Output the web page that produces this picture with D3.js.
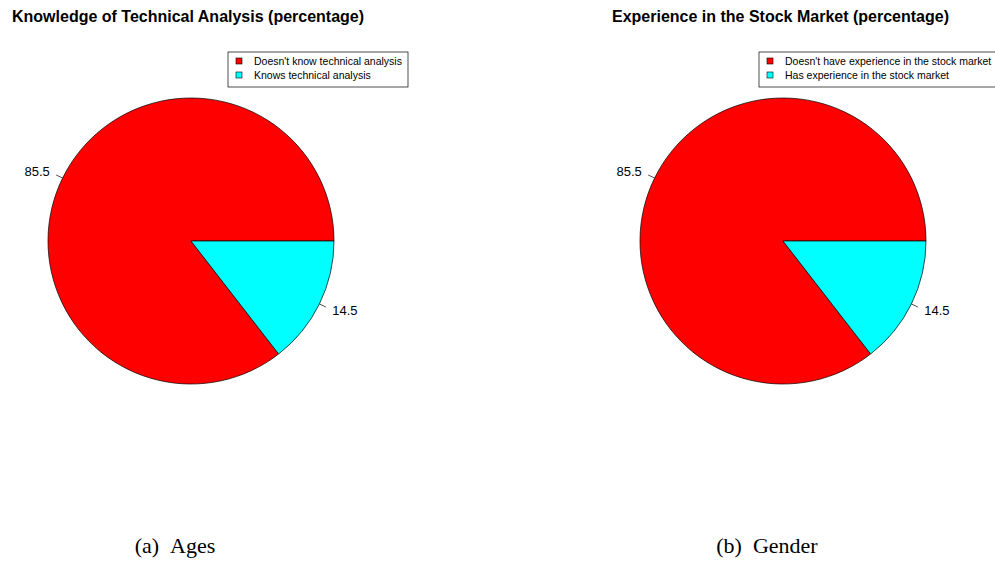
<!DOCTYPE html>
<html>
<head>
<meta charset="utf-8">
<script src="https://cdn.jsdelivr.net/npm/d3@7"></script>
<style>
  body { margin: 0; background: #fff; }
  text { font-family: "Liberation Sans", Arial, sans-serif; }
</style>
</head>
<body>
<script>
var titles = ["Knowledge of Technical Analysis (percentage)", "Experience in the Stock Market (percentage)"];
var captions = ["(a)\u2002Ages", "(b)\u2002Gender"];
var knowledgeLabels = ["Doesn't know technical analysis", "Knows technical analysis"];
var experienceLabels = ["Doesn't have experience in the stock market", "Has experience in the stock market"];
var knowledgeValues = [85.5, 14.5];
var experienceValues = [85.5, 14.5];
var sliceColors = ["#ff0000", "#00ffff"];

var svg = d3.select("body").append("svg")
  .attr("width", 995)
  .attr("height", 561);

var panels = [
  {titleX: 12, cx: 191, title: titles[0], caption: captions[0], labels: knowledgeLabels, values: knowledgeValues, legendX: 228, legendW: 180, captionX: 175},
  {titleX: 612, cx: 783, title: titles[1], caption: captions[1], labels: experienceLabels, values: experienceValues, legendX: 759, legendW: 250, captionX: 767}
];

var radius = 143;
var color = d3.scaleOrdinal().domain([0, 1]).range(sliceColors);

// R draws counter-clockwise from 3 o'clock
var pie = d3.pie().sort(null).startAngle(Math.PI / 2).endAngle(Math.PI / 2 - 2 * Math.PI);
var arc = d3.arc().innerRadius(0).outerRadius(radius);

panels.forEach(function(p) {
  svg.append("text")
    .attr("x", p.titleX)
    .attr("y", 22)
    .attr("font-size", 16)
    .attr("font-weight", "bold")
    .text(p.title);

  var pg = svg.append("g").attr("transform", "translate(" + p.cx + ",241)");
  var arcs = pie(p.values);

  pg.selectAll("path")
    .data(arcs)
    .enter().append("path")
    .attr("d", arc)
    .attr("fill", function(d, i) { return color(i); })
    .attr("stroke", "#000")
    .attr("stroke-width", 0.7);

  arcs.forEach(function(d) {
    var a = (d.startAngle + d.endAngle) / 2;
    var sx = Math.sin(a), sy = -Math.cos(a);
    pg.append("line")
      .attr("x1", sx * radius).attr("y1", sy * radius)
      .attr("x2", sx * radius * 1.05).attr("y2", sy * radius * 1.05)
      .attr("stroke", "#000").attr("stroke-width", 0.7);
    pg.append("text")
      .attr("x", sx * radius * 1.1)
      .attr("y", sy * radius * 1.1)
      .attr("dy", "0.35em")
      .attr("text-anchor", sx < 0 ? "end" : "start")
      .attr("font-size", 13)
      .text(d3.format(".1f")(d.data));
  });

  // legend
  var lg = svg.append("g").attr("transform", "translate(" + p.legendX + ",52)");
  lg.append("rect")
    .attr("width", p.legendW).attr("height", 35)
    .attr("fill", "#fff").attr("stroke", "#000").attr("stroke-width", 0.7);
  p.labels.forEach(function(l, i) {
    lg.append("rect")
      .attr("x", 8).attr("y", 6 + i * 14)
      .attr("width", 6).attr("height", 6)
      .attr("fill", color(i)).attr("stroke", "#000").attr("stroke-width", 0.6);
    lg.append("text")
      .attr("x", 26).attr("y", 9.5 + i * 14)
      .attr("dy", "0.35em")
      .attr("font-size", 10.5)
      .text(l);
  });

  svg.append("text")
    .attr("x", p.captionX)
    .attr("y", 553)
    .attr("text-anchor", "middle")
    .attr("font-size", 22)
    .style("font-family", "'Liberation Serif', 'DejaVu Serif', serif")
    .text(p.caption);
});
</script>
</body>
</html>
